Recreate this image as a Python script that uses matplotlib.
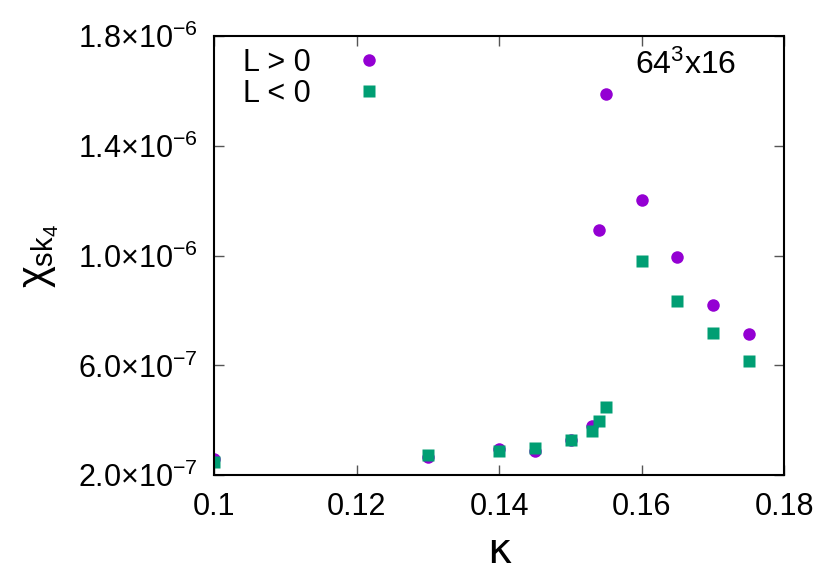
import numpy as np
import matplotlib.pyplot as plt

plt.rcParams['font.family'] = ['Liberation Sans', 'DejaVu Sans']
plt.rcParams['mathtext.fontset'] = 'custom'
plt.rcParams['mathtext.rm'] = 'Liberation Sans'
plt.rcParams['mathtext.it'] = 'Liberation Sans'

# --- data ---
kappa_pos = [0.1, 0.13, 0.14, 0.145, 0.15, 0.153, 0.154, 0.155, 0.16, 0.165, 0.17, 0.175]
chi_pos = [2.58e-7, 2.65e-7, 2.95e-7, 2.89e-7, 3.27e-7, 3.80e-7, 1.092e-6, 1.587e-6,
           1.202e-6, 9.96e-7, 8.19e-7, 7.15e-7]

kappa_neg = [0.1, 0.13, 0.14, 0.145, 0.15, 0.153, 0.154, 0.155, 0.16, 0.165, 0.17, 0.175]
chi_neg = [2.50e-7, 2.72e-7, 2.87e-7, 3.00e-7, 3.27e-7, 3.63e-7, 3.98e-7, 4.47e-7,
           9.81e-7, 8.35e-7, 7.17e-7, 6.18e-7]

xticks = [0.1, 0.12, 0.14, 0.16, 0.18]
xlabels = ['0.1', '0.12', '0.14', '0.16', '0.18']
yticks = [2e-7, 6e-7, 1.0e-6, 1.4e-6, 1.8e-6]
ylabels = [r'2.0$\times$10$^{-7}$', r'6.0$\times$10$^{-7}$', r'1.0$\times$10$^{-6}$',
           r'1.4$\times$10$^{-6}$', r'1.8$\times$10$^{-6}$']

fig = plt.figure(figsize=(8.3, 5.81), dpi=100)
ax = fig.add_axes([0.258, 0.182, 0.687, 0.756])

ax.plot(kappa_pos, chi_pos, 'o', color='#9400D3', markersize=9, mec='none', label='L > 0')
ax.plot(kappa_neg, chi_neg, 's', color='#009E73', markersize=9.3, mec='none', label='L < 0')

ax.set_xlim(0.1, 0.18)
ax.set_ylim(2e-7, 1.8e-6)
ax.set_xticks(xticks)
ax.set_xticklabels(xlabels)
ax.set_yticks(yticks)
ax.set_yticklabels(ylabels)
ax.tick_params(direction='in', length=7, width=1, color='#555555', labelsize=22,
               top=True, right=True)
ax.tick_params(axis='x', pad=12)
ax.tick_params(axis='y', pad=12)
for s in ax.spines.values():
    s.set_linewidth(1.5)

ax.set_xlabel('κ', fontsize=30, family='DejaVu Sans', labelpad=6)
ax.set_ylabel(r'$\chi_{\mathrm{sk}_4}$', fontsize=30, labelpad=12)

ax.legend(loc='upper left', markerfirst=False, frameon=False, fontsize=22,
          handletextpad=1.3, handlelength=1.2, labelspacing=0.02,
          bbox_to_anchor=(0.003, 1.035))
ax.text(0.915, 0.968, r'64$^3$x16', transform=ax.transAxes, ha='right', va='top', fontsize=23)

fig.savefig('out.png', dpi=100)
